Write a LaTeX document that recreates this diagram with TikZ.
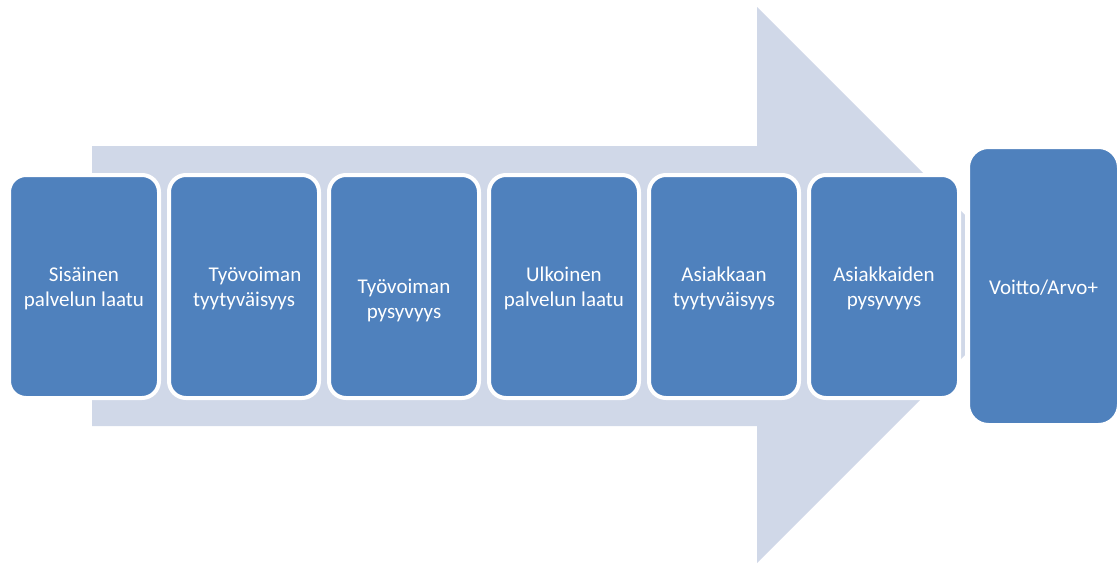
\documentclass[tikz,border=0pt]{standalone}
\usepackage{fontspec}
\setmainfont{Carlito}
\definecolor{stepblue}{HTML}{4F81BD}
\definecolor{arrowgray}{HTML}{D0D8E8}
\begin{document}
\begin{tikzpicture}[x=1pt,y=-1pt,
  stepbox/.style={rectangle, rounded corners=17pt, fill=stepblue, draw=white,
    line width=4pt, minimum width=150pt, minimum height=223pt, inner sep=0pt},
  endbox/.style={rectangle, rounded corners=21pt, fill=stepblue, draw=white,
    line width=5pt, minimum width=152pt, minimum height=279pt, inner sep=0pt},
  steptext/.style={text=white, align=center, inner sep=0pt,
    font=\fontsize{21}{25}\selectfont}]
  \useasboundingbox (0,0) rectangle (1117,565);
  % background arrow
  \fill[arrowgray] (92,146) -- (757,146) -- (757,7) -- (1035,285)
    -- (757,563) -- (757,426) -- (92,426) -- cycle;
  % process steps
  \node[stepbox] (s1) at (84,286.5) {};
  \node[stepbox] (s2) at (244,286.5) {};
  \node[stepbox] (s3) at (404,286.5) {};
  \node[stepbox] (s4) at (564,286.5) {};
  \node[stepbox] (s5) at (724,286.5) {};
  \node[stepbox] (s6) at (884,286.5) {};
  \node[endbox] (s7) at (1043.5,286) {};
  % step labels
  \node[steptext] (t1) at (84,288) {Sisäinen\\palvelun laatu};
  \node[steptext] (t2) at (244,288) {\hspace*{22pt}Työvoiman\\tyytyväisyys};
  \node[steptext] (t3) at (404,300) {Työvoiman\\pysyvyys};
  \node[steptext] (t4) at (564,288) {Ulkoinen\\palvelun laatu};
  \node[steptext] (t5) at (724,288) {Asiakkaan\\tyytyväisyys};
  \node[steptext] (t6) at (884,288) {Asiakkaiden\\pysyvyys};
  \node[steptext] (t7) at (1043.5,288) {Voitto/Arvo+};
\end{tikzpicture}
\end{document}
